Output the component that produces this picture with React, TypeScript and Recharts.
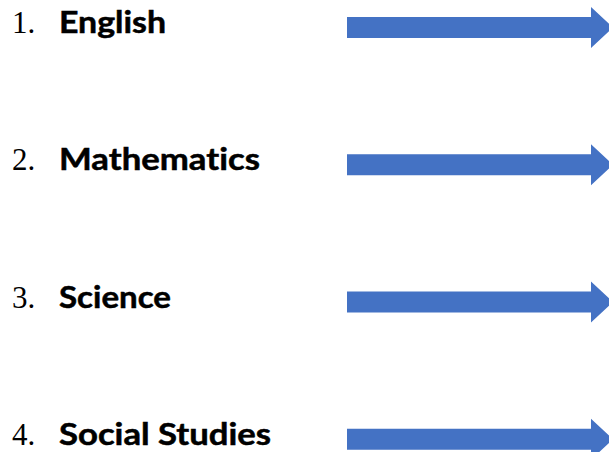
import React from "react";
import { ComposedChart, Bar, XAxis, YAxis } from "recharts";

const numbers = ["1.", "2.", "3.", "4."];
const subjects = ["English", "Mathematics", "Science", "Social Studies"];
const arrowLengths = [1, 1, 1, 1];
const labelWidths = [107, 201, 112, 212];

const data = subjects.map((s, i) => ({
  subject: s,
  num: numbers[i],
  length: arrowLengths[i],
  labelWidth: labelWidths[i],
}));

const BLUE = "#4472C4";

const ArrowShape = (props: any) => {
  const { x, y, width, height } = props;
  const cy = y + height / 2;
  const bodyHalf = height * 0.256;
  const headHalf = height / 2;
  const headLen = 22;
  const hx = x + width - headLen;
  const pts = [
    [x, cy - bodyHalf],
    [hx, cy - bodyHalf],
    [hx, cy - headHalf],
    [x + width, cy],
    [hx, cy + headHalf],
    [hx, cy + bodyHalf],
    [x, cy + bodyHalf],
  ]
    .map((p) => p.join(","))
    .join(" ");
  return <polygon points={pts} fill={BLUE} />;
};

const LabelTick = (props: any) => {
  const { y, payload, index } = props;
  const d = data[index] || data.find((e) => e.subject === payload.value);
  const base = y + 5.5;
  return (
    <g>
      <text
        x={12}
        y={base}
        fontFamily="'Liberation Serif', 'Times New Roman', serif"
        fontSize={31}
        fill="#000"
      >
        {d ? d.num : ""}
      </text>
      <text
        x={59}
        y={base}
        fontFamily="Lato, 'Liberation Sans', sans-serif"
        fontWeight="bold"
        fontSize={30}
        fill="#000"
        stroke="#000"
        strokeWidth={0.5}
        style={{ fontVariantLigatures: "none", fontFeatureSettings: '"liga" 0' }}
        textLength={d ? d.labelWidth : undefined}
        lengthAdjust="spacingAndGlyphs"
      >
        {payload.value}
      </text>
    </g>
  );
};

export default function App() {
  return (
    <div
      style={{
        position: "absolute",
        left: 0,
        top: 0,
        width: 609,
        height: 452,
        overflow: "hidden",
        background: "#fff",
      }}
    >
      <div style={{ position: "absolute", left: 0, top: -41 }}>
        <ComposedChart
          layout="vertical"
          width={613}
          height={549}
          data={data}
          margin={{ top: 0, right: 0, bottom: 0, left: 0 }}
        >
          <XAxis type="number" domain={[0, 1]} hide />
          <YAxis
            type="category"
            dataKey="subject"
            width={347}
            axisLine={false}
            tickLine={false}
            tick={<LabelTick />}
            interval={0}
          />
          <Bar
            dataKey="length"
            barSize={41}
            shape={<ArrowShape />}
            isAnimationActive={false}
          />
        </ComposedChart>
      </div>
    </div>
  );
}
